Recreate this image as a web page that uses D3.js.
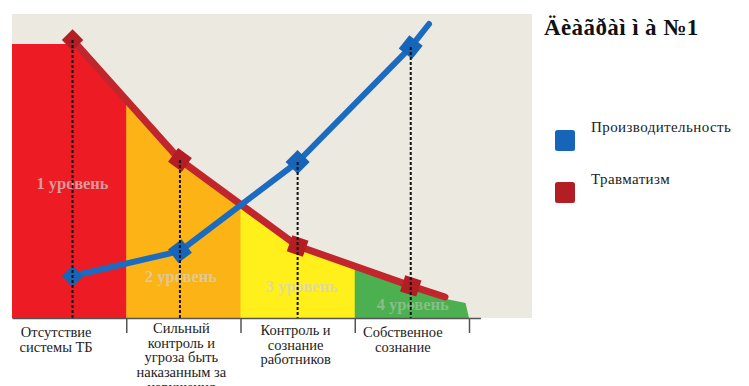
<!DOCTYPE html>
<meta charset="utf-8">
<style>
body { margin: 0; background: #fff; }
svg { display: block; }
</style>
<svg width="749" height="386"></svg>
<script src="https://d3js.org/d3.v7.min.js"></script>
<script>
// data
var categories = [
  ["Отсутствие", "системы ТБ"],
  ["Сильный", "контроль и", "угроза быть", "наказанным за", "нарушения"],
  ["Контроль и", "сознание", "работников"],
  ["Собственное", "сознание"]
];
var levels = ["1 уровень", "2 уровень", "3 уровень", "4 уровень"];
var levelY = [43, 12, 8.7, 2.7];
var bandColors = ["#ED1C24", "#FBB316", "#FFEF1A", "#4CB050"];

var markerX = [0.53, 1.47, 2.5, 3.49];
var trauma = [92.7, 52.7, 24, 10.7];
var prod = [14, 22.3, 52, 90.3];
// where each line runs on past its last marker
var traumaTail = [3.79, 7];
var prodTail = [3.65, 98];
// top edge of the coloured levels
var fillTop = [[0, 91.3], [0.556, 91.3], [1.47, 51.5], [2.5, 23], [3.49, 9.7], [3.8, 6.3], [3.97, 5], [4, 0]];

var seriesNames = ["Производительность", "Травматизм"];
var seriesColors = ["#1B6CC0", "#C1262D"];
var markerColors = ["#1765B8", "#B31E25"];
var title = "Äèàãðàì ì à №1";

var serif = "'Liberation Serif'";
var svg = d3.select("svg");

var x = d3.scaleLinear().domain([0, 4]).range([12, 469]);
var y = d3.scaleLinear().domain([0, 100]).range([318, 18]);

// beige plot background
svg.append("rect")
  .attr("x", 12).attr("y", 14)
  .attr("width", 520).attr("height", 304)
  .attr("fill", "#ECE9E0");

// coloured level bands under the trauma curve
var defs = svg.append("defs");
bandColors.forEach(function(c, i) {
  defs.append("clipPath").attr("id", "band" + i)
    .append("rect")
    .attr("x", x(i)).attr("y", 0)
    .attr("width", x(i + 1) - x(i) + (i < 3 ? 0.5 : 0))
    .attr("height", y(0));
});

var area = d3.area()
  .x(function(d) { return x(d[0]); })
  .y0(y(0))
  .y1(function(d) { return y(d[1]); });

bandColors.forEach(function(c, i) {
  svg.append("path")
    .datum(fillTop)
    .attr("d", area)
    .attr("fill", c)
    .attr("clip-path", "url(#band" + i + ")");
});

// level labels
svg.append("g").selectAll("text")
  .data(levels)
  .enter().append("text")
  .attr("x", function(d, i) { return x(markerX[i]) + [0, 1, 4, 2][i]; })
  .attr("y", function(d, i) { return y(levelY[i]); })
  .attr("text-anchor", "middle")
  .style("font-family", serif)
  .style("font-size", "16.5px")
  .style("font-weight", "bold")
  .attr("fill", "#D2D2D2")
  .attr("fill-opacity", function(d, i) { return i == 3 ? 0.45 : 0.7; })
  .text(function(d) { return d; });

// lines
var line = d3.line()
  .x(function(d) { return x(d[0]); })
  .y(function(d) { return y(d[1]); });

var traumaPts = markerX.map(function(v, i) { return [v, trauma[i]]; });
traumaPts.push(traumaTail);
var prodPts = markerX.map(function(v, i) { return [v, prod[i]]; });
prodPts.push(prodTail);

svg.append("path").datum(traumaPts)
  .attr("d", line).attr("fill", "none")
  .attr("stroke", seriesColors[1]).attr("stroke-width", 7)
  .attr("stroke-linecap", "round").attr("stroke-linejoin", "round");

svg.append("path").datum(prodPts)
  .attr("d", line).attr("fill", "none")
  .attr("stroke", seriesColors[0]).attr("stroke-width", 6)
  .attr("stroke-linecap", "round").attr("stroke-linejoin", "round");

// markers: diamond first, then squares turned along the line
function drawMarkers(pts, color) {
  var sym = d3.symbol().type(d3.symbolSquare).size(290);
  svg.append("g").selectAll("path")
    .data(pts.slice(0, 4))
    .enter().append("path")
    .attr("d", function(d, i) { return i == 0 ? d3.symbol().type(d3.symbolSquare).size(230)() : sym(); })
    .attr("fill", color)
    .attr("transform", function(d, i) {
      var nx = pts[i + 1];
      var ang = Math.atan2(y(nx[1]) - y(d[1]), x(nx[0]) - x(d[0])) * 180 / Math.PI;
      if (i == 0) ang = 45;
      return "translate(" + x(d[0]) + "," + y(d[1]) + ") rotate(" + ang + ")";
    });
}
drawMarkers(traumaPts, markerColors[1]);
drawMarkers(prodPts, markerColors[0]);

// dashed drop lines
svg.append("g").selectAll("line")
  .data(markerX)
  .enter().append("line")
  .attr("x1", function(d) { return x(d); })
  .attr("x2", function(d) { return x(d); })
  .attr("y1", function(d, i) { return y(Math.max(trauma[i], prod[i])); })
  .attr("y2", y(0))
  .attr("stroke", "#111")
  .attr("stroke-width", 2)
  .attr("stroke-dasharray", "3,2");

// x axis
var xAxisScale = x.copy().domain([0, 4.1]).range([12, x(4.1)]);
var ax = svg.append("g")
  .attr("transform", "translate(0," + y(0) + ")")
  .call(d3.axisBottom(xAxisScale).tickValues([1, 2, 3, 4]).tickSizeInner(15).tickSizeOuter(0).tickFormat(""));
ax.select(".domain").attr("stroke", "#555").attr("stroke-width", 1.5);
ax.selectAll(".tick line").attr("stroke", "#555").attr("stroke-width", 1.5);

// category labels
var labelDx = [-13, -2, -2, -9];
var labelY = [337, 333, 335, 337];
categories.forEach(function(lines, i) {
  var t = svg.append("text")
    .attr("x", x(i + 0.5) + labelDx[i])
    .attr("y", labelY[i])
    .attr("text-anchor", "middle")
    .style("font-family", serif)
    .style("font-size", "14.5px")
    .attr("fill", "#222");
  lines.forEach(function(s, j) {
    t.append("tspan")
      .attr("x", x(i + 0.5) + labelDx[i])
      .attr("dy", j == 0 ? 0 : 14.7)
      .text(s);
  });
});

// title
svg.append("text")
  .attr("x", 544).attr("y", 35)
  .style("font-family", serif)
  .style("font-size", "23px")
  .style("font-weight", "bold")
  .style("letter-spacing", "0.4px")
  .attr("fill", "#111")
  .text(title);

// legend
var legend = svg.append("g").selectAll("g")
  .data(seriesNames)
  .enter().append("g")
  .attr("transform", function(d, i) { return "translate(555," + (130 + i * 52) + ")"; });
legend.append("rect")
  .attr("width", 20).attr("height", 21).attr("rx", 2.5)
  .attr("fill", function(d, i) { return markerColors[i]; });
legend.append("text")
  .attr("x", 36).attr("y", 2)
  .style("font-family", serif)
  .style("font-size", "15px")
  .style("letter-spacing", "0.4px")
  .attr("fill", "#222")
  .text(function(d) { return d; });
</script>
